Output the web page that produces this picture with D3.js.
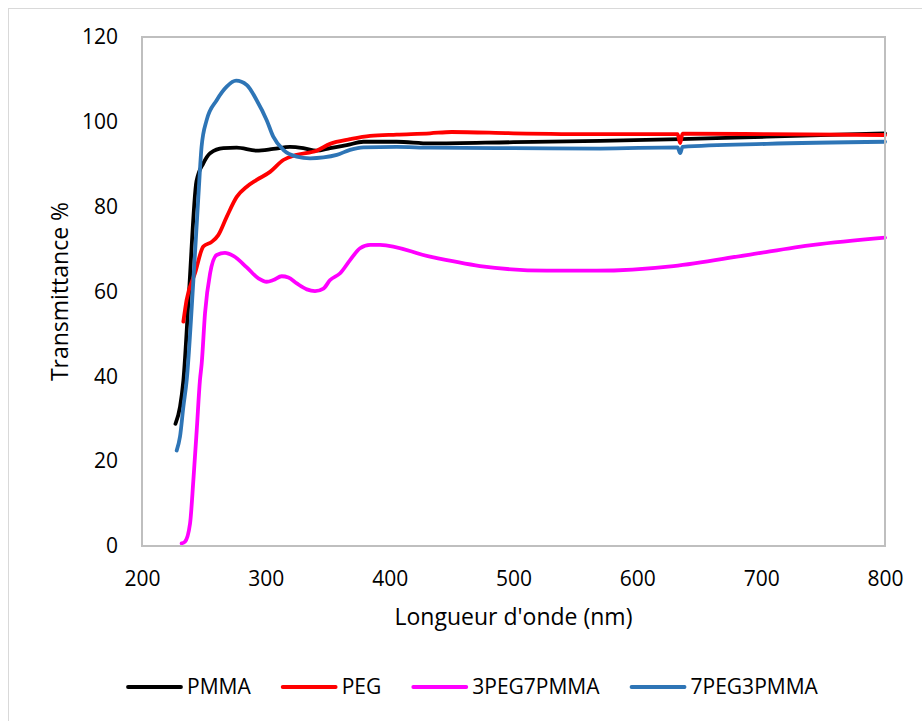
<!DOCTYPE html>
<html>
<head>
<meta charset="utf-8">
<style>
  body { margin: 0; background: #fff; }
  text { font-family: "Open Sans", sans-serif; fill: #000; }
  .tick text { font-size: 21px; }
  .title { font-size: 23px; }
  .legend text { font-size: 21px; }
  .series { fill: none; stroke-width: 3.8; stroke-linejoin: round; stroke-linecap: round; }
</style>
</head>
<body>
<svg class="chart"></svg>
<script src="https://cdn.jsdelivr.net/npm/d3@7"></script>
<script>
// wavelength (nm), transmittance (%)
var pmma = [
  [227, 28.8], [230.7, 32.8], [233.4, 39], [238, 60], [244, 86], [249.5, 90.2],
  [255, 92.6], [265.7, 93.8], [276.5, 93.9], [292.6, 93.2], [306, 93.6],
  [319.5, 94.1], [330.3, 93.8], [341, 93.2], [351.9, 93.8], [365.3, 94.5],
  [378.8, 95.3], [405.7, 95.3], [432.6, 94.9], [500, 95.2], [570, 95.5],
  [634.6, 95.9], [704.6, 96.5], [800, 97.3]
];
var peg = [
  [233.4, 52.9], [236, 58], [242.8, 64.3], [249.5, 70.6], [256.3, 71.7],
  [261.6, 73.3], [268.4, 77.6], [276.5, 82.3], [284.6, 84.7], [292.6, 86.3],
  [303.4, 88.2], [314.1, 91], [325, 92.2], [341, 93.2], [351.9, 94.8],
  [368, 95.9], [384.2, 96.7], [405.7, 97], [432.6, 97.3], [450, 97.6],
  [500, 97.3], [570, 97.1], [632.5, 97.1], [634.6, 95], [636.5, 97.2],
  [704.6, 97.1], [800, 96.9]
];
var peg3pmma7 = [
  [232, 0.6], [234.7, 1], [238.8, 5.3], [241.5, 15.6], [244.2, 27.3],
  [246.8, 39.1], [248.2, 43], [250.9, 54.9], [255, 64.3], [260.3, 68.6],
  [267, 69.1], [273.7, 68.4], [284.6, 65.7], [294, 63.1], [300.7, 62.3],
  [306, 62.7], [312.8, 63.6], [318.2, 63.3], [325, 61.9], [333.1, 60.5],
  [339.7, 60.1], [346.5, 60.7], [351.9, 62.7], [360, 64.3], [368, 67.4],
  [376.1, 70.2], [384.2, 71], [392.2, 71], [432.6, 68.2], [473, 66],
  [526.9, 64.9], [567.3, 64.9], [629.2, 66], [688.4, 68.6], [742.3, 71],
  [800, 72.7]
];
var peg7pmma3 = [
  [228, 22.5], [230.7, 25.8], [233.4, 32.8], [236.1, 39.1], [241.5, 62.7],
  [245.5, 82.3], [248.1, 94.1], [252.2, 100.4], [260.3, 105.1], [268.4, 108.3],
  [276, 109.7], [284.6, 108.7], [292.6, 105.1], [300.7, 100.4], [306, 96.5],
  [314.1, 93.4], [325, 91.8], [335.7, 91.4], [346.5, 91.6], [357.3, 92.2],
  [368, 93.4], [378.8, 94], [405.7, 94.1], [432.6, 93.9], [500, 93.8],
  [570, 93.7], [632.5, 94], [634.6, 92.6], [636.5, 94.1], [704.6, 94.8],
  [800, 95.3]
];

var seriesNames = ["PMMA", "PEG", "3PEG7PMMA", "7PEG3PMMA"];
var seriesData = [pmma, peg, peg3pmma7, peg7pmma3];
var seriesColors = ["#000000", "#ff0000", "#ff00ff", "#2e75b6"];

var xTicks = [200, 300, 400, 500, 600, 700, 800];
var yTicks = [0, 20, 40, 60, 80, 100, 120];

var width = 922, height = 721;
var plot = { left: 142, right: 885, top: 37, bottom: 546 };

var chart = d3.select(".chart")
  .attr("width", width)
  .attr("height", height);

chart.append("rect")
  .attr("width", width).attr("height", height)
  .attr("fill", "#fff");

// outer chart frame (right and bottom fall outside the picture)
chart.append("rect")
  .attr("x", 8.5).attr("y", 8.5)
  .attr("width", width + 20).attr("height", height + 20)
  .attr("fill", "none")
  .attr("stroke", "#d9d9d9")
  .attr("stroke-width", 1);

var x = d3.scaleLinear().domain([200, 800]).range([plot.left, plot.right]);
var y = d3.scaleLinear().domain([0, 120]).range([plot.bottom, plot.top]);

chart.append("g")
  .attr("transform", "translate(0," + plot.bottom + ")")
  .call(d3.axisBottom(x).tickValues(xTicks).tickSize(0).tickPadding(25))
  .call(function(g) { g.select(".domain").remove(); })
  .selectAll("text").attr("font-family", null).attr("font-size", null);

chart.append("g")
  .attr("transform", "translate(" + plot.left + ",0)")
  .call(d3.axisLeft(y).tickValues(yTicks).tickSize(0).tickPadding(24))
  .call(function(g) { g.select(".domain").remove(); })
  .selectAll("text").attr("font-family", null).attr("font-size", null);

var line = d3.line()
  .x(function(d) { return x(d[0]); })
  .y(function(d) { return y(d[1]); })
  .curve(d3.curveMonotoneX);

chart.selectAll(".series")
  .data(seriesData)
  .enter()
  .append("path")
  .attr("class", "series")
  .attr("stroke", function(d, i) { return seriesColors[i]; })
  .attr("d", line);

// plot area border
chart.append("rect")
  .attr("x", plot.left).attr("y", plot.top)
  .attr("width", plot.right - plot.left)
  .attr("height", plot.bottom - plot.top)
  .attr("fill", "none")
  .attr("stroke", "#bfbfbf")
  .attr("stroke-width", 2);

chart.append("text")
  .attr("class", "title")
  .attr("x", (plot.left + plot.right) / 2)
  .attr("y", 625)
  .attr("text-anchor", "middle")
  .text("Longueur d'onde (nm)");

chart.append("text")
  .attr("class", "title")
  .attr("transform", "translate(68," + (plot.top + plot.bottom) / 2 + ") rotate(-90)")
  .attr("text-anchor", "middle")
  .text("Transmittance %");

// legend
var legend = chart.append("g").attr("class", "legend");
var lx = 128, ly = 687;
seriesNames.forEach(function(name, i) {
  legend.append("line")
    .attr("x1", lx).attr("x2", lx + 53)
    .attr("y1", ly).attr("y2", ly)
    .attr("stroke", seriesColors[i])
    .attr("stroke-width", 3.8)
    .attr("stroke-linecap", "round");
  var t = legend.append("text")
    .attr("x", lx + 59)
    .attr("y", ly)
    .attr("dy", "0.35em")
    .text(name);
  lx += 59 + t.node().getComputedTextLength() + 32;
});
</script>
</body>
</html>
